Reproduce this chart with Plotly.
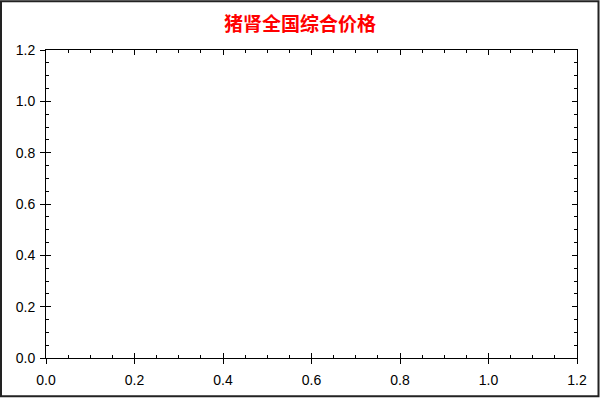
import plotly.graph_objects as go

# the reference chart has no data points, only the frame and the axes
dates = []
prices = []
title = "猪肾全国综合价格"
axis_range = [0, 1.2]
tick_vals = [0.0, 0.2, 0.4, 0.6, 0.8, 1.0, 1.2]
tick_text = ["0.0", "0.2", "0.4", "0.6", "0.8", "1.0", "1.2"]

W, H = 600, 400
ml, mr, mt, mb = 46, 23, 50, 40
pw, ph = W - ml - mr, H - mt - mb

fig = go.Figure()
fig.add_trace(go.Scatter(x=dates, y=prices, mode="lines", line=dict(color="red"),
                         showlegend=False))
# dummy trace so the overlay axes get drawn
fig.add_trace(go.Scatter(x=[], y=[], xaxis="x2", yaxis="y2", showlegend=False))

tick_font = dict(family="Liberation Sans, Arial", size=14, color="black")
common = dict(range=axis_range, tickvals=tick_vals, ticktext=tick_text,
              showgrid=False, zeroline=False, showline=True, linecolor="black",
              linewidth=1, mirror="ticks", ticks="inside", ticklen=5, tickwidth=1,
              tickcolor="black", tickfont=tick_font, fixedrange=True,
              minor=dict(ticks="inside", ticklen=3, dtick=0.05, tickcolor="black",
                         showgrid=False))

fig.update_layout(
    width=W, height=H,
    margin=dict(l=ml, r=mr, t=mt, b=mb),
    paper_bgcolor="white", plot_bgcolor="white",
    title=dict(text="<b>" + title + "</b>", x=0.5, xanchor="center",
               y=1 - 24.5 / H, yanchor="middle",
               font=dict(family="Noto Sans CJK SC", size=19, color="#ff0000")),
    xaxis=dict(**common, ticklabelstandoff=9),
    yaxis=dict(**common, ticklabelstandoff=7),
    # overlay axes carrying only the outside half of the major ticks
    xaxis2=dict(overlaying="x", side="bottom", range=axis_range, tickvals=tick_vals,
                showticklabels=False, ticks="outside", ticklen=5, tickcolor="black",
                showgrid=False, zeroline=False, showline=False, fixedrange=True),
    yaxis2=dict(overlaying="y", side="left", range=axis_range, tickvals=tick_vals,
                showticklabels=False, ticks="outside", ticklen=5, tickcolor="black",
                showgrid=False, zeroline=False, showline=False, fixedrange=True),
    shapes=[dict(type="rect", xref="paper", yref="paper",
                 x0=(1 - ml) / pw, x1=(598.5 - ml) / pw,
                 y0=(H - mb - 398.5) / ph, y1=(H - mb - 1) / ph,
                 line=dict(color="#222222", width=2), fillcolor="rgba(0,0,0,0)",
                 layer="above")],
)

fig.write_html("out.html", config={"displayModeBar": False},
               post_script="document.body.style.margin='0';")
